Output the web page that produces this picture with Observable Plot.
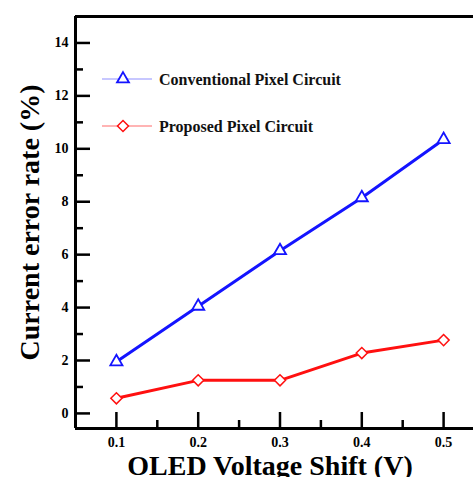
<!DOCTYPE html>
<html><head><meta charset="utf-8">
<script src="https://cdn.jsdelivr.net/npm/d3@7"></script>
<script src="https://cdn.jsdelivr.net/npm/@observablehq/plot@0.6"></script>
<style>
html,body{margin:0;padding:0;background:#fff;}
#wrap{width:473px;height:477px;overflow:hidden;position:relative;}
#wrap svg{max-width:none !important;}
</style>
</head><body><div id="wrap"></div>
<script>
const shifts = [0.1, 0.2, 0.3, 0.4, 0.5];
const conventional = [1.95, 4.05, 6.15, 8.15, 10.35];
const proposed = [0.57, 1.25, 1.25, 2.28, 2.77];
const seriesNames = ["Conventional Pixel Circuit", "Proposed Pixel Circuit"];
const xMajor = [0.1, 0.2, 0.3, 0.4, 0.5];
const xMinor = [0.15, 0.25, 0.35, 0.45];
const yMajor = [0, 2, 4, 6, 8, 10, 12, 14];
const yMinor = [1, 3, 5, 7, 9, 11, 13];
const xDomain = [0.05, 0.55];
const yDomain = [-0.57, 15];

const convData = shifts.map((x, i) => ({x, y: conventional[i]}));
const propData = shifts.map((x, i) => ({x, y: proposed[i]}));

const W = 484, H = 477, mL = 75, mT = 16, mB = 49, mR = 0;
const pw = W - mL - mR, ph = H - mT - mB;
const blue = "#1414ff", red = "#ff1010";
const font = "'Liberation Serif', 'Times New Roman', serif";

const plot = Plot.plot({
  width: W, height: H,
  marginLeft: mL, marginTop: mT, marginBottom: mB, marginRight: mR,
  style: {fontFamily: font, color: "black", background: "white", maxWidth: "none"},
  x: {domain: xDomain},
  y: {domain: yDomain},
  marks: [
    Plot.axisY(yMajor, {tickSize: 0, tickPadding: 7, fontSize: 14, fontWeight: "bold", label: null}),
    Plot.axisX(xMajor, {tickSize: 0, tickPadding: 9, fontSize: 14, fontWeight: "bold", label: null, tickFormat: d => d.toFixed(1)}),
    Plot.tickY(yMajor, {y: d => d, insetRight: pw - 15, strokeWidth: 2.5, stroke: "black"}),
    Plot.tickY(yMinor, {y: d => d, insetRight: pw - 8, strokeWidth: 2.5, stroke: "black"}),
    Plot.tickX(xMajor, {x: d => d, insetTop: ph - 16, strokeWidth: 2.5, stroke: "black"}),
    Plot.tickX(xMinor, {x: d => d, insetTop: ph - 8, strokeWidth: 2.5, stroke: "black"}),
    Plot.ruleX([xDomain[0]], {strokeWidth: 3, stroke: "black"}),
    Plot.ruleY([yDomain[0], yDomain[1]], {strokeWidth: 3, stroke: "black"}),
    Plot.line(convData, {x: "x", y: "y", stroke: blue, strokeWidth: 3}),
    Plot.line(propData, {x: "x", y: "y", stroke: red, strokeWidth: 3}),
    Plot.dot(convData, {x: "x", y: "y", symbol: "triangle", r: 4.5, stroke: blue, fill: "white", strokeWidth: 1.8}),
    Plot.dot(propData, {x: "x", y: "y", symbol: d3.symbolDiamond2, r: 5, stroke: red, fill: "white", strokeWidth: 1.5}),
    Plot.text(["Current error rate (%)"], {frameAnchor: "left", textAnchor: "middle", lineAnchor: "middle", rotate: -90, dx: -45, fontSize: 28, fontWeight: "bold", fill: "black"}),
    Plot.text(["OLED Voltage Shift (V)"], {frameAnchor: "bottom", textAnchor: "middle", lineAnchor: "middle", dy: 38, dx: -10, fontSize: 28, fontWeight: "bold", fill: "black"})
  ]
});
document.getElementById("wrap").appendChild(plot);

// legend inside the plot frame
const svg = d3.select(plot);
const leg = svg.append("g").attr("font-family", font).attr("font-weight", "bold").attr("font-size", 16).attr("text-anchor", "start");
const legendItems = [
  {name: seriesNames[0], line: "#9090ff", color: blue, symbol: d3.symbolTriangle, size: 62, sw: 1.8},
  {name: seriesNames[1], line: "#ff6a6a", color: red, symbol: d3.symbolDiamond2, size: 77, sw: 1.5}
];
legendItems.forEach((it, i) => {
  const cy = 79 + i * 47;
  leg.append("line").attr("x1", 102).attr("x2", 152).attr("y1", cy).attr("y2", cy).attr("stroke", it.line).attr("stroke-width", 1.2);
  leg.append("path").attr("d", d3.symbol(it.symbol, it.size)()).attr("transform", `translate(123,${cy})`)
    .attr("fill", "white").attr("stroke", it.color).attr("stroke-width", it.sw);
  leg.append("text").attr("x", 159).attr("y", cy).attr("dy", "0.35em").attr("fill", "#111").text(it.name);
});
</script>
</body></html>
